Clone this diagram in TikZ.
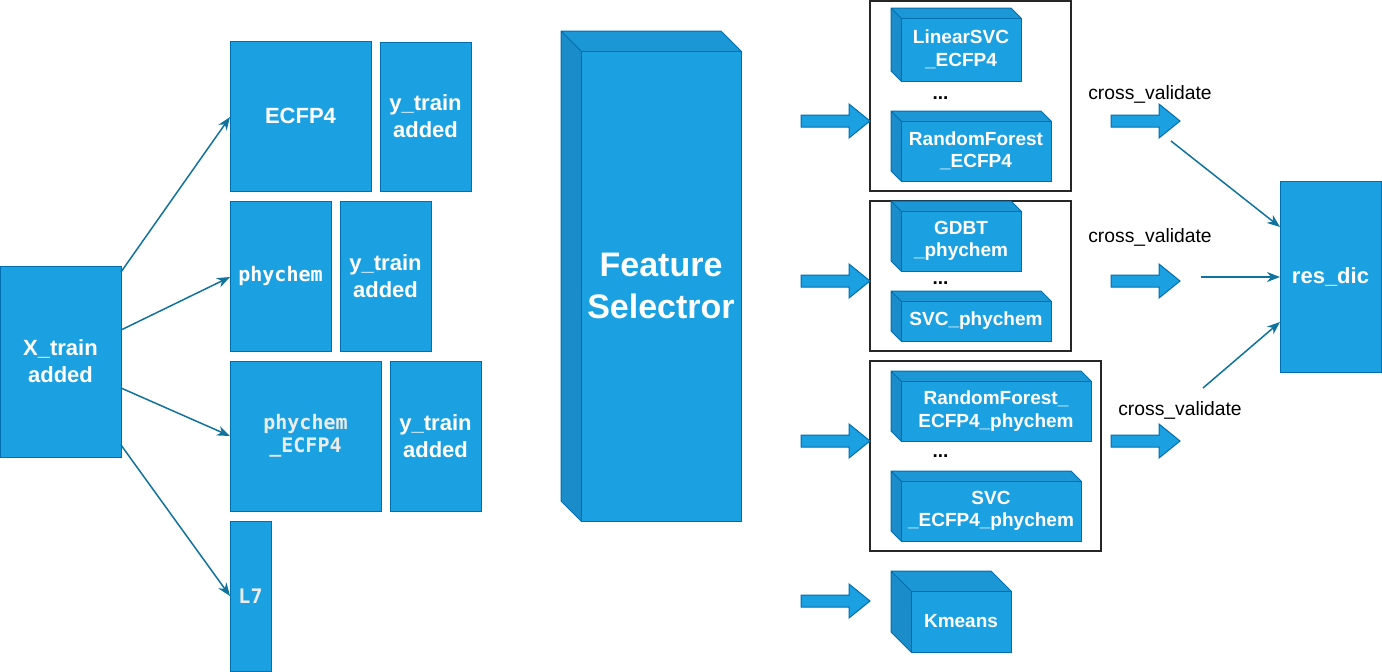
\documentclass[tikz,border=0pt]{standalone}
\usepackage{fontspec}
\setmainfont{Liberation Sans}
\setmonofont{DejaVu Sans Mono}
\usetikzlibrary{arrows.meta,calc}
\definecolor{bfill}{HTML}{1BA1E2}
\definecolor{bstroke}{HTML}{006EAF}
\definecolor{btop}{HTML}{1C97D5}
\definecolor{bside}{HTML}{1A8CC9}
\definecolor{conncol}{HTML}{10739E}
\definecolor{lgray}{HTML}{ECECEC}
\newcommand{\cubebox}[8]{% name, x, y, w, h, d, node options, text
  \fill[btop] (#2,#3) -- (#2+#4-#6,#3) -- (#2+#4,#3+#6) -- (#2+#6,#3+#6) -- cycle;
  \fill[bside] (#2,#3) -- (#2+#6,#3+#6) -- (#2+#6,#3+#5) -- (#2,#3+#5-#6) -- cycle;
  \node[cubefront, minimum width=#4-#6, minimum height=#5-#6, #7] (#1) at (#2+#6/2+#4/2, #3+#6/2+#5/2) {#8};
  \draw[cubeedge] (#2+#6,#3+#6) -- (#2,#3) -- (#2+#4-#6,#3) -- (#2+#4,#3+#6)
                  (#2,#3) -- (#2,#3+#5-#6) -- (#2+#6,#3+#5);
}
\newcommand{\blkarrow}[3]{% x start, x tip, y centre
  \draw[blockarr] (#1,#3-6) -- (#2-21,#3-6) -- (#2-21,#3-17) -- (#2,#3)
     -- (#2-21,#3+17) -- (#2-21,#3+6) -- (#1,#3+6) -- cycle;
}
\begin{document}
\begin{tikzpicture}[x=1pt,y=-1pt,
  box/.style={draw=bstroke, fill=bfill, line width=1pt, inner sep=0pt, outer sep=0pt,
    text=white, align=center, font=\fontsize{22}{27}\selectfont\bfseries},
  monobox/.style={box, font=\fontsize{20}{22.5}\selectfont\ttfamily\bfseries},
  cubefront/.style={draw=bstroke, fill=bfill, line width=1pt, inner sep=0pt, outer sep=0pt,
    text=white, align=center, font=\fontsize{19}{22.5}\selectfont\bfseries},
  cubeedge/.style={draw=bstroke, line width=1pt, line join=round},
  grp/.style={draw=black!85, line width=1.6pt, inner sep=0pt, outer sep=0pt},
  conn/.style={draw=conncol, line width=1.5pt, -{Stealth[length=13pt,width=10pt,inset=4pt]}},
  blockarr/.style={draw=bstroke, fill=bfill, line width=1pt, line join=miter},
  dots/.style={font=\fontsize{19}{22}\selectfont\bfseries, inner sep=0pt, anchor=base},
  cvlabel/.style={font=\fontsize{19.3}{22}\selectfont, inner sep=0pt, anchor=base}
]
\useasboundingbox (0,0) rectangle (1382,672);

% left column
\node[box, minimum width=121, minimum height=191] (xtrain) at (60.5,361.5) {X\_train\\added};
\node[box, minimum width=141, minimum height=150] (ecfp) at (300.5,116) {ECFP4};
\node[box, minimum width=91, minimum height=149] (yt1) at (425.5,116.5) {y\_train\\added};
\node[monobox, minimum width=101, minimum height=150] (phy) at (280.5,276) {phychem};
\node[box, minimum width=91, minimum height=150] (yt2) at (385.5,276) {y\_train\\added};
\node[monobox, text=lgray, minimum width=151, minimum height=150] (phyecfp) at (305.5,436) {phychem\\\_ECFP4};
\node[box, minimum width=91, minimum height=150] (yt3) at (435.5,436) {y\_train\\added};
\node[monobox, text=lgray, minimum width=41, minimum height=150] (l7) at (250.5,596) {L7};

\draw[conn] (xtrain.east |- 0,272) -- (ecfp.west |- 0,117);
\draw[conn] (xtrain.east |- 0,330) -- (phy.west |- 0,277);
\draw[conn] (xtrain.east |- 0,388) -- (phyecfp.west |- 0,436);
\draw[conn] (xtrain.east |- 0,445) -- (l7.west |- 0,596);

% feature selector
\cubebox{fs}{561}{31}{180}{490}{20}{font=\fontsize{34}{42}\selectfont\bfseries}{Feature\\Selectror}

% groups
\node[grp, minimum width=201, minimum height=190] (g1) at (970.5,96) {};
\node[grp, minimum width=201, minimum height=150] (g2) at (970.5,276) {};
\node[grp, minimum width=231, minimum height=190] (g3) at (985.5,456) {};

\cubebox{lsvc}{891}{8}{130}{73}{10}{}{LinearSVC\\\_ECFP4}
\node[dots] (d1) at (940.5,99.5) {...};
\cubebox{rfe}{891}{111}{160}{70}{10}{}{RandomForest\\\_ECFP4}

\cubebox{gdbt}{891}{201}{130}{70}{10}{}{GDBT\\\_phychem}
\node[dots] (d2) at (940.5,284) {...};
\cubebox{svcp}{891}{291}{160}{50}{10}{}{SVC\_phychem}

\cubebox{rfep}{891}{371}{200}{70}{10}{}{RandomForest\_\\ECFP4\_phychem}
\node[dots] (d3) at (940.5,457) {...};
\cubebox{svcep}{891}{471}{190}{70}{10}{}{SVC\\\_ECFP4\_phychem}

\cubebox{kmeans}{891}{571}{120}{81}{20}{}{Kmeans}

% input block arrows
\blkarrow{801}{870}{121}
\blkarrow{801}{870}{281}
\blkarrow{801}{870}{441}
\blkarrow{801}{870}{601}

% cross validate
\node[cvlabel] (cv1) at (1150,99) {cross\_validate};
\node[cvlabel] (cv2) at (1150,242) {cross\_validate};
\node[cvlabel] (cv3) at (1180,415) {cross\_validate};
\blkarrow{1111}{1180}{121}
\blkarrow{1111}{1180}{281}
\blkarrow{1111}{1180}{441}

\node[box, minimum width=101, minimum height=191] (resdic) at (1330.5,276.5) {res\_dic};

\coordinate (s1) at (1171,141);
\coordinate (s2) at (1201,277);
\coordinate (s3) at (1203,388);
\draw[conn] (s1) -- (resdic.west |- 0,227);
\draw[conn] (s2) -- (resdic.west |- 0,277);
\draw[conn] (s3) -- (resdic.west |- 0,322);
\end{tikzpicture}
\end{document}
